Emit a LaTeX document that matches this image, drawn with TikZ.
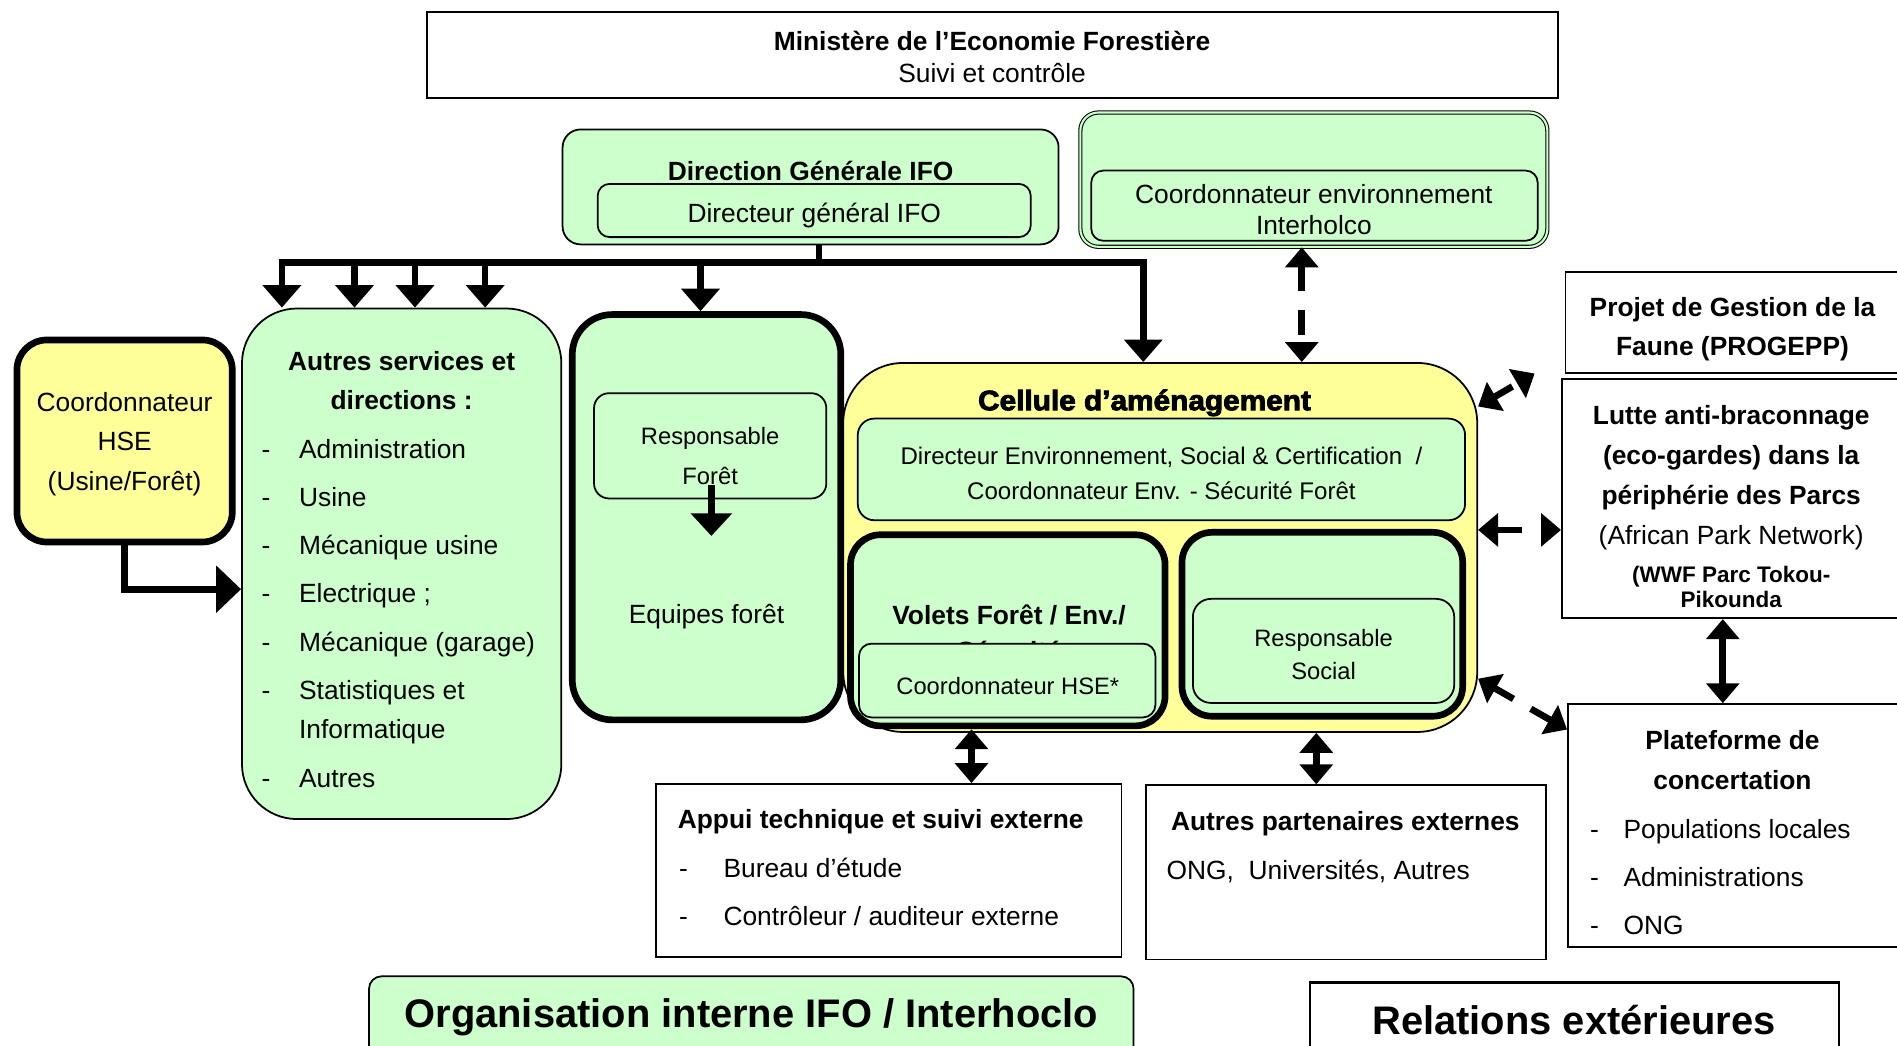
\documentclass[tikz,border=0pt]{standalone}
\usepackage{fontspec}
\setmainfont{Liberation Sans}
\newfontfamily\heavyfont[BoldFeatures={FakeBold=3}]{Liberation Sans}
\usepackage{tikz}
\usetikzlibrary{arrows.meta, fit, calc}
\definecolor{vert}{RGB}{204,255,204}
\definecolor{jaune}{RGB}{255,255,153}
\newcommand{\tiret}[1]{\makebox[#1][l]{-}}
\tikzset{boite/.style={draw=black, line width=1pt, inner sep=0pt},
boiteverte/.style={boite, fill=vert},
boitejaune/.style={boite, fill=jaune},
epais/.style={line width=3.8pt},
txt/.style={inner sep=0pt, align=center, font=\fontsize{15}{22.6}\selectfont},
txtb/.style={inner sep=0pt, align=center, font=\fontsize{15}{22.6}\selectfont\bfseries},
petit/.style={inner sep=0pt, align=center, font=\fontsize{13.5}{22.6}\selectfont},
grand/.style={inner sep=0pt, font=\fontsize{22.7}{26}\selectfont\bfseries},
fleche/.style={line width=3.8pt, ->, >={Triangle[width=0.75cm,length=0.45cm]}},
dfleche/.style={line width=3.8pt, <->, >={Triangle[width=0.65cm,length=0.4cm]}}}

\begin{document}
\begin{tikzpicture}[x=0.024196cm, y=-0.024196cm]
    \useasboundingbox (0,0) rectangle (1568,864);
    \clip (0,0) rectangle (1568,864);

    \node[boite, fit={(353,10) (1288,81)}] (mef) {};
    \node[txt] (meftxt) at (820,47) {\textbf{Ministère de l’Economie Forestière}\\[-4.8pt]Suivi et contrôle};

    \node[boiteverte, rounded corners=0.36cm, fit={(465,107) (875,202)}] (dg) {};
    \node[txtb] (dgtitre) at (670,141) {Direction Générale IFO};
    \node[boiteverte, rounded corners=0.24cm, fit={(494,152) (852,196)}] (dgdir) {};
    \node[txt] (dgdirtxt) at (673,178) {Directeur général IFO};

    \node[boiteverte, line width=0.6pt, double=vert, double distance=1.2pt, rounded corners=0.36cm, fit={(893,93) (1279,204)}] (coordenv) {};
    \node[boiteverte, rounded corners=0.24cm, fit={(902,141) (1271,199)}] (coordenvin) {};
    \node[txt, font=\fontsize{15}{17.8}\selectfont] (coordenvtxt) at (1086,173) {Coordonnateur environnement\\Interholco};

    \node[boitejaune, epais, rounded corners=0.6cm, fit={(14,281) (192,448)}] (hse) {};
    \node[txt] (hsetxt) at (103,367) {Coordonnateur\\HSE\\(Usine/Forêt)};

    \node[boiteverte, rounded corners=1.1cm, fit={(200,255) (464,677)}] (autres) {};
    \node[txtb] (autrestitre) at (332,314.5) {Autres services et\\directions :};
    \node[txt, anchor=west, align=left, font=\fontsize{15}{27.4}\selectfont] (autresliste) at (216,507) {\tiret{0.75cm}Administration\\\tiret{0.75cm}Usine\\\tiret{0.75cm}Mécanique usine\\\tiret{0.75cm}Electrique ;\\\tiret{0.75cm}Mécanique (garage)\\\tiret{0.75cm}Statistiques et\\[-4.8pt]\makebox[0.75cm]{}Informatique\\\tiret{0.75cm}Autres};

    \node[boiteverte, epais, rounded corners=0.8cm, fit={(473,260) (695,595)}] (equipes) {};
    \node[boiteverte, rounded corners=0.3cm, fit={(491,325) (683,412)}] (respforet) {};
    \node[petit] (respforettxt) at (587,377) {Responsable\\Forêt};
    \node[txt] (equipestxt) at (584,510) {Equipes forêt};
    \coordinate (pointe) at (588,443);

    \node[boitejaune, rounded corners=1.2cm, fit={(697,300) (1221,605)}] (cellule) {};
    \node[inner sep=0pt, font=\heavyfont\bfseries\fontsize{16}{18}\selectfont] (celltitre) at (946,333) {\scalebox{1.06}[1]{Cellule d’aménagement}};
    \node[boiteverte, rounded corners=0.33cm, fit={(709,346) (1211,430)}] (celldir) {};
    \node[txt, font=\fontsize{13.7}{20}\selectfont] (celldirtxt) at (960,391) {Directeur Environnement, Social \& Certification~~/\\Coordonnateur Env. - Sécurité Forêt};

    \node[boiteverte, epais, rounded corners=0.6cm, fit={(703,442) (963,600)}] (volets) {};
    \node[txtb] (volettitre) at (834,523) {Volets Forêt / Env./\\[-2pt]Sécurité};
    \node[boiteverte, rounded corners=0.25cm, fit={(710,532) (955,593)}] (volhse) {};
    \node[petit] (volhsetxt) at (833,567) {Coordonnateur HSE*};

    \node[boiteverte, epais, rounded corners=0.6cm, fit={(977,440) (1209,592)}] (social) {};
    \node[boiteverte, rounded corners=0.36cm, fit={(986,495) (1202,581)}] (socresp) {};
    \node[petit, font=\fontsize{13.5}{19}\selectfont] (socresptxt) at (1094,541) {Responsable\\Social};

    \node[boite, fit={(1294,225) (1575,308)}] (projet) {};
    \node[txtb] (projettxt) at (1432,272) {Projet de Gestion de la\\Faune (PROGEPP)};
    \node[boite, fit={(1291,313) (1575,511)}] (lutte) {};
    \node[txt] (luttetxt) at (1431,419) {\textbf{Lutte anti-braconnage}\\\textbf{(eco-gardes) dans la}\\\textbf{périphérie des Parcs}\\(African Park Network)\\[-0.7pt]\textbf{\fontsize{12.8}{14}\selectfont(WWF Parc Tokou-}\\[-8.2pt]\textbf{\fontsize{12.8}{14}\selectfont Pikounda}};
    \node[boite, fit={(1296,582) (1575,783)}] (plate) {};
    \node[txtb] (platetitre) at (1432,628) {Plateforme de\\concertation};
    \node[txt, anchor=west, align=left, font=\fontsize{15}{27.2}\selectfont] (plateliste) at (1314,725) {\tiret{0.67cm}Populations locales\\\tiret{0.67cm}Administrations\\\tiret{0.67cm}ONG};

    \node[boite, fit={(542,648) (927,791)}] (appui) {};
    \node[txtb, anchor=west] (appuititre) at (560,679) {Appui technique et suivi externe};
    \node[txt, anchor=west, align=left, font=\fontsize{15}{27.4}\selectfont] (appuiliste) at (561,737) {\tiret{0.89cm}Bureau d’étude\\\tiret{0.89cm}Contrôleur / auditeur externe};

    \node[boite, fit={(947,649) (1278,793)}] (partext) {};
    \node[txtb] (partexttitre) at (1112,681) {Autres partenaires externes};
    \node[txt, anchor=west] (partextliste) at (964,720) {ONG,~~Universités, Autres};

    \node[boiteverte, rounded corners=0.25cm, fit={(305,807) (937,890)}] (orgint) {};
    \node[grand] (orginttxt) at (621,841) {Organisation interne IFO / Interhoclo};
    \node[boite, line width=1.4pt, fit={(1083,812) (1520,890)}] (relext) {};
    \node[grand] (relexttxt) at (1301,843) {Relations extérieures};

    \coordinate (busg) at (233,217);
    \coordinate (busd) at (945,217);
    \draw[line width=3.8pt] (dg.south -| 677,0) -- (busg -| 677,0);
    \draw[fleche] (busg -| 677,0) -- (busd) -- (cellule.north -| busd);
    \draw[fleche] (busg -| 677,0) -- (busg) -- (busg |- autres.north);
    \foreach \x in {293,343,401}
        \draw[fleche] (busg -| \x,0) -- (autres.north -| \x,0);
    \draw[fleche] (busg -| 579,0) -- (equipes.north -| 579,0);
    \draw[fleche, >={Triangle[width=0.92cm,length=0.5cm]}] (hse.south) |- (autres.west |- 0,487);
    \draw[fleche, >={Triangle[width=0.8cm,length=0.45cm]}] (respforet.south -| pointe) ++(0,-12) -- (pointe);

    \draw[dfleche, dash pattern=on 0.5cm off 0.38cm] (coordenv.south -| 1076,0) -- (cellule.north -| 1076,0);
    \draw[dfleche] (volets.south -| 803,0) -- (appui.north -| 803,0);
    \draw[dfleche] (cellule.south -| 1088,0) -- (partext.north -| 1088,0);
    \draw[dfleche] (lutte.south -| 1424,0) -- (plate.north -| 1424,0);
    \draw[dfleche, dash pattern=on 0.42cm off 0.3cm] (cellule.east |- 0,336) -- ([xshift=-0.6cm]projet.south west);
    \draw[dfleche, dash pattern=on 0.5cm off 0.39cm] (cellule.east |- 0,438) -- (lutte.west |- 0,438);
    \draw[dfleche, dash pattern=on 0.44cm off 0.4cm] (cellule.east |- 0,561) -- (plate.west |- 0,603);
\end{tikzpicture}
\end{document}
